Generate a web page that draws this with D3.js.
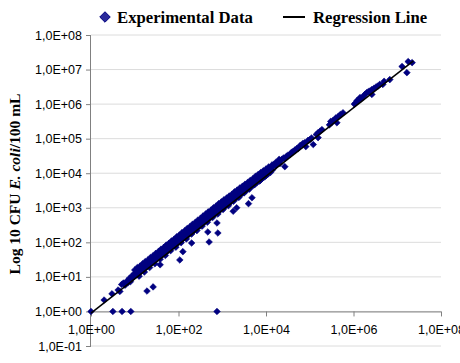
<!DOCTYPE html>
<html><head><meta charset="utf-8">
<script src="https://cdn.jsdelivr.net/npm/d3@7"></script>
<style>body{margin:0;background:#fff}svg{display:block}</style>
</head><body>
<svg id="c" width="460" height="363"></svg>
<script>
// log10 of (x: reference count, y: measured CFU E. coli / 100 mL)
const pointsLog = [
[0.00,0.00],[0.50,0.00],[0.71,0.00],[0.91,0.00],[2.88,0.00],
[0.30,0.33],[0.48,0.51],[0.62,0.62],[0.66,0.58],[0.70,0.78],[0.74,0.82],[0.78,0.76],[0.82,0.88],[0.85,0.84],[0.88,0.96],[0.90,0.86],[0.93,1.02],[0.95,0.97],[0.98,1.08],[1.00,1.03],[1.03,1.12],[1.05,1.06],[1.08,1.18],[1.10,1.12],[1.13,1.22],[1.15,1.16],[1.18,1.28],[1.20,1.22],[1.23,1.33],[1.25,1.27],[1.28,0.59],[1.42,0.71],[1.58,1.35],
[1.28,1.38],[1.30,1.32],[1.33,1.43],[1.35,1.37],[1.38,1.48],[1.40,1.42],[1.43,1.53],[1.45,1.46],[1.48,1.57],[1.50,1.52],[1.53,1.63],[1.55,1.56],[1.58,1.67],[1.60,1.61],[1.63,1.72],[1.65,1.66],[1.68,1.78],[1.70,1.71],[1.73,1.82],[1.75,1.74],[1.78,1.88],[1.80,1.81],[1.83,1.92],[1.85,1.86],[1.88,1.97],[1.90,1.90],[1.93,2.03],[1.95,1.96],[1.98,2.07],[2.00,1.99],[2.03,1.49],[2.03,2.12],[2.05,2.04],[2.08,2.17],[2.10,2.10],[2.10,1.73],[2.13,2.22],[2.15,2.14],[2.18,2.27],[2.20,2.19],[2.23,2.32],[2.25,2.24],[2.28,2.37],[2.30,1.98],[2.30,2.29],[2.33,2.42],[2.35,2.33],[2.38,2.47],[2.40,2.39],[2.43,2.52],[2.45,2.44],[2.48,2.57],[2.50,2.48],[2.53,2.62],[2.55,2.54],[2.58,2.70],[2.60,2.60],[2.63,2.74],[2.65,2.64],[2.67,2.30],[2.68,2.78],[2.70,2.01],[2.70,2.68],[2.73,2.83],[2.75,2.74],[2.78,2.88],[2.80,2.79],[2.83,2.93],[2.85,2.83],[2.88,2.56],[2.88,2.97],[2.90,2.27],[2.90,2.88],[2.93,3.02],[2.95,2.93],[2.98,3.07],[3.00,2.98],[3.03,3.11],[3.05,3.02],[3.08,3.16],[3.10,3.08],[3.13,3.21],[3.15,3.12],[3.18,3.26],[3.20,3.17],[3.23,3.31],[3.25,2.90],[3.25,3.21],[3.28,3.36],[3.30,3.27],[3.33,3.00],[3.33,3.41],[3.35,3.31],[3.38,3.46],[3.40,3.36],[3.43,3.51],[3.45,3.41],[3.48,3.56],[3.50,3.45],[3.53,3.61],[3.55,3.50],[3.58,3.66],[3.60,3.12],[3.60,3.55],[3.63,3.71],[3.65,3.60],[3.68,3.29],[3.68,3.76],[3.70,3.64],[3.73,3.80],[3.75,3.69],[3.78,3.85],[3.80,3.74],[3.83,3.90],[3.85,3.78],[3.88,3.95],[3.90,3.83],[3.93,3.99],[3.95,3.88],[3.98,4.04],[4.00,3.93],[4.03,4.09],[4.05,3.98],[4.09,4.12],
[4.12,4.18],[4.15,4.10],[4.18,4.24],[4.20,4.25],[4.23,4.22],[4.26,4.30],[4.30,4.34],[4.32,4.28],[4.36,4.40],[4.40,4.44],[4.43,4.19],[4.43,4.42],[4.47,4.49],[4.50,4.52],[4.55,4.54],[4.58,4.60],[4.62,4.63],[4.66,4.67],[4.70,4.71],[4.74,4.72],[4.78,4.80],[4.84,4.86],[4.88,4.88],[4.91,4.77],[4.96,4.95],[5.00,4.97],[5.04,5.02],[5.08,4.83],[5.15,5.12],[5.19,5.17],[5.19,5.03],[5.24,5.22],[5.28,5.26],
[5.45,5.40],[5.48,5.50],[5.50,5.46],[5.53,5.52],[5.57,5.56],[5.60,5.60],[5.62,5.46],[5.65,5.64],[5.70,5.70],[5.76,5.75],
[6.02,6.00],[6.05,6.03],[6.08,6.10],[6.12,6.12],[6.15,6.19],[6.18,6.16],[6.22,6.22],[6.26,6.28],[6.30,6.33],[6.34,6.36],[6.38,6.38],[6.42,6.28],[6.42,6.42],[6.47,6.46],[6.52,6.50],[6.56,6.52],[6.60,6.57],[6.67,6.57],[6.70,6.66],[6.83,6.71],
[7.11,7.09],[7.22,6.91],[7.25,7.23],[7.34,7.20],
// upper edge of the dense band
[1.00,1.20],[1.06,1.27],[1.12,1.31],[1.18,1.38],[1.24,1.44],[1.30,1.49],[1.36,1.56],[1.42,1.61],[1.48,1.68],[1.54,1.73],[1.60,1.80],[1.66,1.85],[1.72,1.92],[1.78,1.97],[1.84,2.04],[1.90,2.09],[1.96,2.16],[2.02,2.21],[2.08,2.28],[2.14,2.33],[2.20,2.40],[2.26,2.45],[2.32,2.52],[2.38,2.57],[2.44,2.64],[2.50,2.69],[2.56,2.76],[2.62,2.82],[2.68,2.88],[2.74,2.93],[2.80,3.00],[2.86,3.05],[2.92,3.12],[2.98,3.17],[3.04,3.23],[3.10,3.28],[3.16,3.34],[3.22,3.39],[3.28,3.46],[3.34,3.51],[3.40,3.57],[3.46,3.62],[3.52,3.68],[3.58,3.73],[3.64,3.79],[3.70,3.84],[3.76,3.91],[3.82,3.96],[3.88,4.02],[3.94,4.07],[4.00,4.12],[4.06,4.18],[4.14,4.24],[4.22,4.31],[4.30,4.40],
// lower edge of the dense band
[1.10,1.02],[1.22,1.14],[1.34,1.27],[1.46,1.38],[1.58,1.51],[1.70,1.62],[1.82,1.76],[1.94,1.86],[2.06,1.99],[2.18,2.10],[2.30,2.24],[2.42,2.34],[2.54,2.47],[2.66,2.58],[2.78,2.72],[2.90,2.82],[3.02,2.95],[3.14,3.06],[3.26,3.19],[3.38,3.30],[3.50,3.43],[3.62,3.54],[3.74,3.67],[3.86,3.78],[3.98,3.91],[4.10,4.02]
];
const regressionLog = [[0.00,-0.05],[7.37,7.25]];
const xTicks = [1e0,1e2,1e4,1e6,1e8];
const yTicks = [1e-1,1e0,1e1,1e2,1e3,1e4,1e5,1e6,1e7,1e8];
const legendLabels = ["Experimental Data","Regression Line"];
const yTitle = ["Log 10 CFU ","E. coli","/100 mL"];

const svg = d3.select("#c");
const L=91, R=441, T=35, B=346;
const x = d3.scaleLog().domain([1e0,1e8]).range([L,R]);
const y = d3.scaleLog().domain([1e-1,1e8]).range([B,T]);
const fmt = v => { const e=Math.round(Math.log10(v)); return "1,0E"+(e<0?"-":"+")+String(Math.abs(e)).padStart(2,"0"); };

// gridlines
svg.append("g").selectAll("line").data(yTicks).join("line")
  .attr("x1",L).attr("x2",R).attr("y1",d=>y(d)).attr("y2",d=>y(d))
  .attr("stroke","#dcdcdc").attr("stroke-width",1);

// y axis
const gy = svg.append("g").attr("transform",`translate(${L},0)`)
  .call(d3.axisLeft(y).tickValues(yTicks).tickFormat(fmt).tickSize(5).tickPadding(4));
gy.select(".domain").attr("stroke","#808080").attr("d",`M-0.5,${T}V${B}`);
gy.selectAll(".tick line").attr("stroke","#808080");
gy.selectAll("text").attr("font-family","Arial, Liberation Sans, sans-serif").attr("font-size",12.5).attr("fill","#000");

// x axis at y=1
const gx = svg.append("g").attr("transform",`translate(0,${y(1e0)})`)
  .call(d3.axisBottom(x).tickValues(xTicks).tickFormat(fmt).tickSize(5).tickPadding(9));
gx.select(".domain").attr("stroke","#808080").attr("d",`M${L},0.5H${R}`);
gx.selectAll(".tick line").attr("stroke","#808080");
gx.selectAll("text").attr("font-family","Arial, Liberation Sans, sans-serif").attr("font-size",12.5).attr("fill","#000");

// points
const diamond = d3.symbol().type(d3.symbolDiamond2).size(28);
svg.append("g").selectAll("path").data(pointsLog).join("path")
  .attr("d",diamond)
  .attr("transform",d=>`translate(${x(Math.pow(10,d[0]))},${y(Math.pow(10,d[1]))})`)
  .attr("fill","#000080").attr("stroke","#000080").attr("stroke-width",0.6);

// regression line
svg.append("path")
  .attr("d",d3.line().x(d=>x(Math.pow(10,d[0]))).y(d=>y(Math.pow(10,d[1])))(regressionLog))
  .attr("stroke","#000").attr("stroke-width",1.5).attr("fill","none");

// legend
const lg = svg.append("g");
lg.append("path").attr("d",d3.symbol().type(d3.symbolDiamond2).size(70)).attr("transform","translate(105,17)").attr("fill","#2a2a9a").attr("stroke","#000080");
lg.append("text").attr("x",117).attr("y",23).text(legendLabels[0]);
lg.append("line").attr("x1",283).attr("x2",305).attr("y1",17).attr("y2",17).attr("stroke","#000").attr("stroke-width",2);
lg.append("text").attr("x",313).attr("y",23).text(legendLabels[1]);
lg.selectAll("text").attr("font-family","Liberation Serif, Times New Roman, serif").attr("font-weight","bold").attr("font-size",16.7);

// y title
const yt = svg.append("text").attr("transform","translate(20,184) rotate(-90)").attr("text-anchor","middle")
  .attr("font-family","Liberation Serif, Times New Roman, serif").attr("font-weight","bold").attr("font-size",15.5);
yt.append("tspan").text(yTitle[0]);
yt.append("tspan").attr("font-style","italic").text(yTitle[1]);
yt.append("tspan").text(yTitle[2]);
</script>
</body></html>
